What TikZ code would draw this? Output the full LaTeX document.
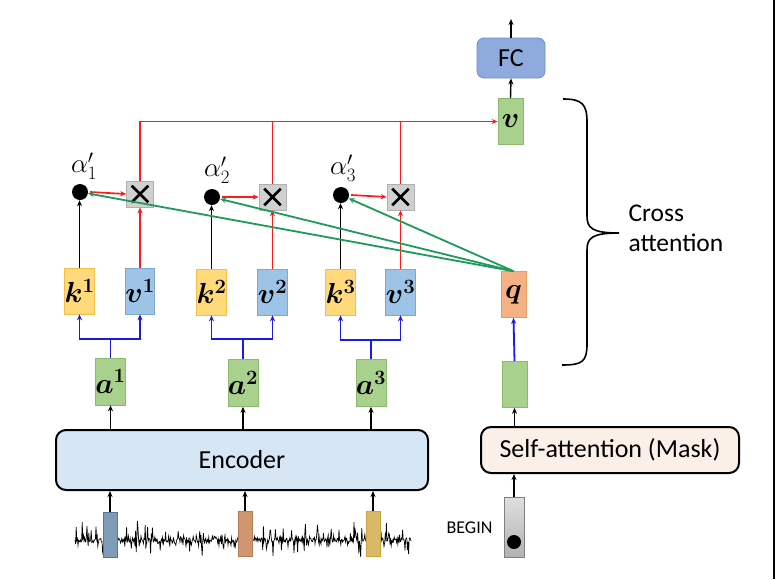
\RequirePackage{fix-cm}
\documentclass[tikz,border=0pt]{standalone}
\usepackage{fontspec}
\setmainfont{Carlito}
\usepackage{bm}
\usetikzlibrary{arrows.meta}
\definecolor{kfill}{HTML}{FFD97A}\definecolor{kdraw}{HTML}{F2C04A}
\definecolor{vfill}{HTML}{9DC3E6}\definecolor{vdraw}{HTML}{7FA7D0}
\definecolor{gfill}{HTML}{A9D18E}\definecolor{gdraw}{HTML}{8DB870}
\definecolor{qfill}{HTML}{F4B183}\definecolor{qdraw}{HTML}{E59A6A}
\definecolor{xfill}{HTML}{D0D0D0}\definecolor{xdraw}{HTML}{B0B0B0}
\definecolor{fcfill}{HTML}{8FAADC}\definecolor{fcdraw}{HTML}{6F8FC8}
\definecolor{encfill}{HTML}{D6E6F4}\definecolor{safill}{HTML}{FAF0E8}
\definecolor{redc}{HTML}{FF1A1A}\definecolor{bluec}{HTML}{1A1AE6}\definecolor{greenc}{HTML}{1E9A5A}
\tikzset{
  vec/.style={draw, line width=0.6pt, minimum width=25pt, minimum height=46pt, inner sep=0pt, font=\fontsize{29}{29}\selectfont},
  kbox/.style={vec, fill=kfill, draw=kdraw},
  vbox/.style={vec, fill=vfill, draw=vdraw},
  gbox/.style={vec, fill=gfill, draw=gdraw},
  qbox/.style={vec, fill=qfill, draw=qdraw},
  mulbox/.style={draw=xdraw, fill=xfill, line width=0.6pt, minimum width=27pt, minimum height=26pt, inner sep=0pt},
  crossmark/.style={line width=2.6pt, black},
  dotn/.style={circle, fill=black, minimum size=16pt, inner sep=0pt},
  bigbox/.style={draw, line width=2pt, rounded corners=10pt, inner sep=0pt, font=\fontsize{26}{26}\selectfont},
  tip/.style={-{Stealth[length=6pt,width=5pt]}},
  blk/.style={tip, line width=1.4pt, black},
  redl/.style={line width=1.7pt, redc},
  reda/.style={redl, tip},
  bluea/.style={tip, line width=1.8pt, bluec},
  greena/.style={tip, line width=1.8pt, greenc},
  alab/.style={font=\fontsize{27}{27}\selectfont},
  bar/.style={line width=0.6pt, minimum width=14pt, minimum height=45pt, inner sep=0pt},
}
\begin{document}
\begin{tikzpicture}[x=1pt,y=-1pt]
\useasboundingbox (0,0) rectangle (776,579);
\fill[white] (0,0) rectangle (776,579);
\draw[line width=1.5pt] (774,0) -- (774,579);

% waveform
\pgfmathsetseed{12}
\draw[line width=0.7pt, black] (75,540) foreach \i in {1,...,560} { -- ({75+0.6*\i},{540+(2+20*rnd^4)*rand}) };

% encoder / self-attention
\node[bigbox, fill=encfill, minimum width=372pt, minimum height=60pt] (enc) at (242,460) {Encoder};
\node[bigbox, fill=safill, minimum width=258pt, minimum height=46pt] (sa) at (610,450) {Self-attention (Mask)};

% input bars
\node[bar, fill=vfill!80!black, draw=vdraw!70!black] (b1) at (110,535) {};
\node[bar, fill=qfill!85!black, draw=qdraw!80!black] (b2) at (245,534) {};
\node[bar, fill=kfill!85!black, draw=kdraw!85!black] (b3) at (373,534) {};
\node[bar, minimum width=20pt, minimum height=60pt, draw=gray, top color=gray!25, bottom color=gray!60] (beg) at (514,527) {};
\node[circle, fill=black, minimum size=14pt, inner sep=0pt] (begdot) at (514,542) {};
\node[font=\fontsize{18}{18}\selectfont, anchor=east] (begl) at (496,528) {BEGIN};

% a vectors
\node[gbox, minimum height=47pt] (a1) at (110.5,381.5) {$\bm{a^1}$};
\node[gbox, minimum height=47pt] (a2) at (243,383) {$\bm{a^2}$};
\node[gbox, minimum height=47pt] (a3) at (371,383) {$\bm{a^3}$};

% k, v
\node[kbox] (k1) at (79.5,291) {$\bm{k^1}$};
\node[vbox] (v1) at (140,291) {$\bm{v^1}$};
\node[kbox] (k2) at (211.5,292) {$\bm{k^2}$};
\node[vbox] (v2) at (272.5,292) {$\bm{v^2}$};
\node[kbox] (k3) at (340.5,292) {$\bm{k^3}$};
\node[vbox] (v3) at (400.5,292) {$\bm{v^3}$};

% dots and multipliers
\node[dotn] (d1) at (80,192) {};
\node[dotn] (d2) at (212,197) {};
\node[dotn] (d3) at (341,195) {};
\node[alab] (l1) at (84,166) {$\alpha'_1$};
\node[alab] (l2) at (217,170) {$\alpha'_2$};
\node[alab] (l3) at (343,168) {$\alpha'_3$};
\node[mulbox] (x1) at (140,194) {};
\node[mulbox] (x2) at (272.5,197) {};
\node[mulbox] (x3) at (400.5,197) {};
\foreach \x in {x1,x2,x3}{
  \draw[crossmark] ([shift={(5.5,5)}]\x.north west) -- ([shift={(-5.5,-5)}]\x.south east);
  \draw[crossmark] ([shift={(-5.5,5)}]\x.north east) -- ([shift={(5.5,-5)}]\x.south west);
}

% right column
\node[gbox] (g) at (514.5,384.5) {};
\node[qbox] (q) at (513.5,294.5) {$\bm{q}$};
\node[gbox] (vo) at (510.5,121.5) {$\bm{v}$};
\node[draw=fcdraw, fill=fcfill, line width=0.8pt, rounded corners=7pt, minimum width=68pt, minimum height=40pt, inner sep=0pt, font=\fontsize{26}{26}\selectfont] (fc) at (511,58) {FC};
\coordinate (out) at (511,19);

% black arrows
\foreach \b/\a in {b1/a1,b2/a2,b3/a3}{
  \draw[blk] (\b.north) -- (\b.north |- enc.south);
  \draw[blk] (\a.south |- enc.north) -- (\a.south);
}
\draw[blk] (beg.north) -- (beg.north |- sa.south);
\draw[blk] (g.south |- sa.north) -- (g.south);
\draw[blk] (vo.north) -- (fc.south);
\draw[blk] (fc.north) -- (out);
\foreach \k/\d in {k1/d1,k2/d2,k3/d3}{ \draw[blk] (\k.north) -- (\k.north |- \d.south); }

% blue splits
\coordinate (j1) at (110.5,339);
\coordinate (j2) at (243,339);
\coordinate (j3) at (371,340);
\foreach \a/\j/\k/\v in {a1/j1/k1/v1,a2/j2/k2/v2,a3/j3/k3/v3}{
  \draw[line width=1.8pt, bluec] (\a.north) -- (\j);
  \draw[bluea] (\j) -| (\k.south);
  \draw[bluea] (\j) -| (\v.south);
}
\draw[bluea] (g.north) -- (q.south);

% red
\foreach \v/\x/\d in {v1/x1/d1,v2/x2/d2,v3/x3/d3}{
  \draw[reda] (\v.north) -- (\x.south);
  \draw[reda] ([xshift=2pt]\d.east) -- (\x.west);
}
\draw[reda] (x1.north) |- (vo.west);
\draw[redl] (x2.north) -- (x2.north |- vo.west);
\draw[redl] (x3.north) -- (x3.north |- vo.west);

% green
\foreach \d in {d1,d2,d3}{ \draw[greena] (q.north) -- (\d); }

% brace
\draw[line width=1.6pt] (563,99) .. controls (582,99) and (587,104) .. (587,122)
  -- (587,216) .. controls (587,228) and (592,233) .. (619,233)
  .. controls (592,233) and (587,238) .. (587,250)
  -- (587,344) .. controls (587,362) and (582,365) .. (562,365);
\node[anchor=west, align=left, font=\fontsize{25.5}{30}\selectfont] (cross) at (625,228) {Cross\\attention};
\end{tikzpicture}
\end{document}
